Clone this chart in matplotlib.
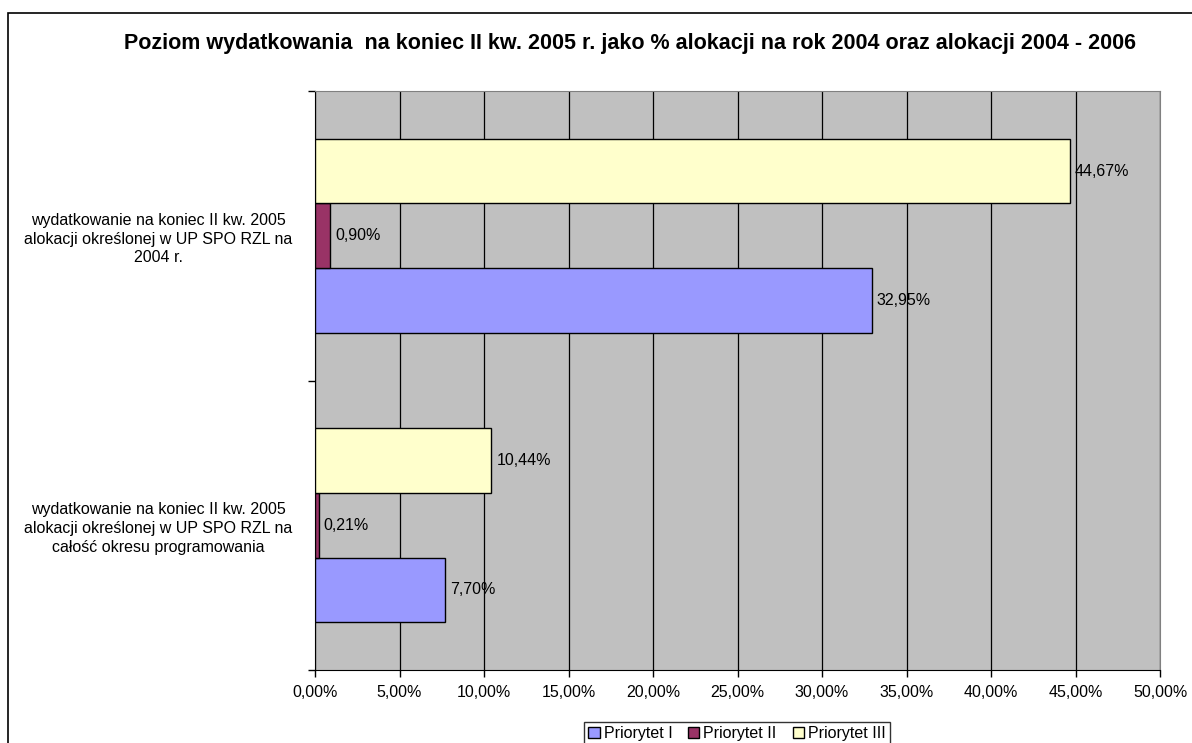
import matplotlib.pyplot as plt
from matplotlib.patches import Rectangle
import numpy as np

plt.rcParams['font.family'] = ['Liberation Sans', 'DejaVu Sans']

categories = ['wydatkowanie na koniec II kw. 2005\nalokacji określonej w UP SPO RZL na\ncałość okresu programowania',
              'wydatkowanie na koniec II kw. 2005\nalokacji określonej w UP SPO RZL na\n2004 r.']
series = ['Priorytet I', 'Priorytet II', 'Priorytet III']
values = [[7.70, 32.95],
          [0.21, 0.90],
          [10.44, 44.67]]
colors = ['#9999FF', '#993366', '#FFFFCC']
title = 'Poziom wydatkowania  na koniec II kw. 2005 r. jako % alokacji na rok 2004 oraz alokacji 2004 - 2006'

W, H = 1192, 743
fs = 11.5
fig = plt.figure(figsize=(W / 100, H / 100), dpi=100)
ax = fig.add_axes([315 / W, 1 - 670 / H, 845 / W, 579 / H])
ax.set_facecolor('#C0C0C0')

# ramka wykresu (lewa i górna krawędź)
fig.patches.append(Rectangle((8 / W, -0.1), 1.2, 1.1 - 13 / H, transform=fig.transFigure,
                             fill=False, edgecolor='black', linewidth=1.2, clip_on=False))

y = np.arange(len(categories))
h = 0.223
for i, (s, v, c) in enumerate(zip(series, values, colors)):
    pos = y + (i - 1) * h
    ax.barh(pos, v, height=h, color=c, edgecolor='black', linewidth=1.0, label=s, zorder=3)
    for p, val in zip(pos, v):
        ax.text(val + 0.3, p, ('%.2f%%' % val).replace('.', ','), va='center', ha='left',
                fontsize=fs, zorder=4)

ax.set_xlim(0, 50)
ax.set_ylim(-0.5, 1.5)
xt = np.arange(0, 51, 5)
ax.set_xticks(xt)
ax.set_xticklabels([('%.2f%%' % t).replace('.', ',') for t in xt], fontsize=fs)
ax.tick_params(axis='x', length=5, width=1, pad=6)
ax.grid(axis='x', color='black', linewidth=0.9, zorder=1)

ax.set_yticks(y)
ax.set_yticklabels(categories, fontsize=fs, ha='center', multialignment='center',
                   linespacing=1.3)
ax.tick_params(axis='y', which='major', length=0, pad=113)
ax.set_yticks([-0.5, 0.5, 1.5], minor=True)
ax.tick_params(axis='y', which='minor', length=5, width=1)

for side in ['top', 'right']:
    ax.spines[side].set_color('#808080')
for side in ['left', 'bottom']:
    ax.spines[side].set_color('black')

fig.text(630 / W, 1 - 43 / H, title, ha='center', va='center', fontsize=15.5, fontweight='bold')

leg = fig.legend(loc='upper center', bbox_to_anchor=(737 / W, 1 - 722 / H), ncol=3,
                 fontsize=fs, frameon=True, fancybox=False, edgecolor='black',
                 handlelength=0.7, handleheight=0.7, handletextpad=0.25, columnspacing=1.0,
                 borderpad=0.25, borderaxespad=0)
leg.get_frame().set_linewidth(1.0)

plt.savefig('out.png', dpi=100)
